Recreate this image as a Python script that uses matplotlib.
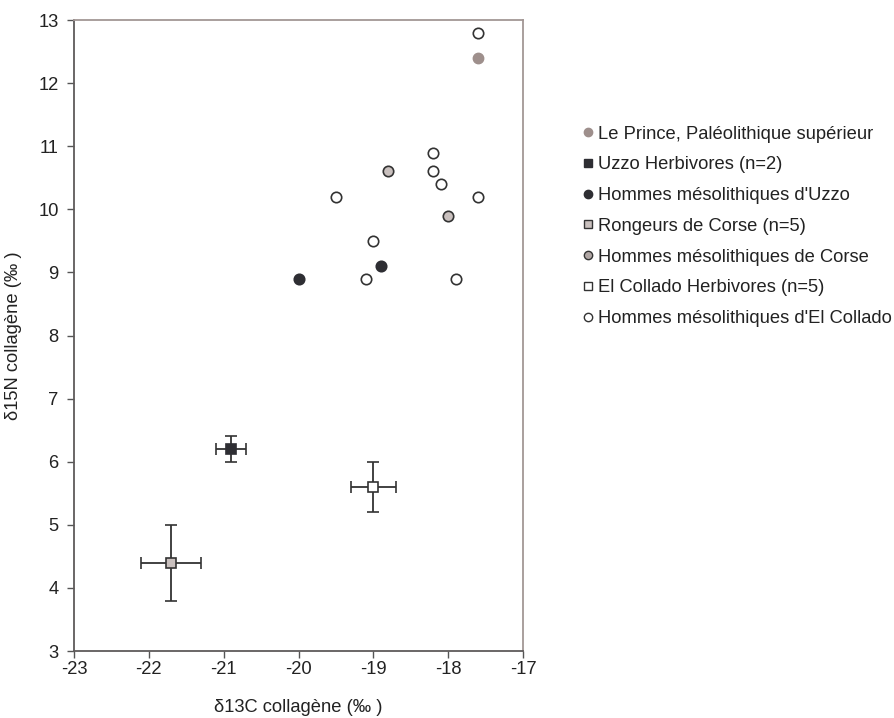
import matplotlib
matplotlib.use("Agg")
import matplotlib.pyplot as plt
from matplotlib.lines import Line2D

plt.rcParams['font.family'] = ['Liberation Sans', 'DejaVu Sans']

# Data
prince_x = [-17.6]
prince_y = [12.4]

uzzo_herb_x = [-20.9]
uzzo_herb_y = [6.2]
uzzo_herb_xerr = [0.2]
uzzo_herb_yerr = [0.2]

uzzo_hum_x = [-20.0, -18.9]
uzzo_hum_y = [8.9, 9.1]

corse_rong_x = [-21.7]
corse_rong_y = [4.4]
corse_rong_xerr = [0.4]
corse_rong_yerr = [0.6]

corse_hum_x = [-18.8, -18.0]
corse_hum_y = [10.6, 9.9]

collado_herb_x = [-19.0]
collado_herb_y = [5.6]
collado_herb_xerr = [0.3]
collado_herb_yerr = [0.4]

collado_hum_x = [-17.6, -18.2, -18.2, -18.1, -19.5, -17.6, -19.0, -19.1, -17.9]
collado_hum_y = [12.8, 10.9, 10.6, 10.4, 10.2, 10.2, 9.5, 8.9, 8.9]

labels = ["Le Prince, Paléolithique supérieur",
          "Uzzo Herbivores (n=2)",
          "Hommes mésolithiques d'Uzzo",
          "Rongeurs de Corse (n=5)",
          "Hommes mésolithiques de Corse",
          "El Collado Herbivores (n=5)",
          "Hommes mésolithiques d'El Collado"]

xticks = [-23, -22, -21, -20, -19, -18, -17]
yticks = [3, 4, 5, 6, 7, 8, 9, 10, 11, 12, 13]

FS = 13.2
dark = '#2e2e33'
edge = '#333333'
fig = plt.figure(figsize=(8.95, 7.18), dpi=100)
ax = fig.add_axes([0.0827, 0.0933, 0.5017, 0.8788])

eb_kw = dict(ecolor=edge, elinewidth=1.3, capsize=4, capthick=1.3, linestyle='none', zorder=2)

ax.errorbar(corse_rong_x, corse_rong_y, xerr=corse_rong_xerr, yerr=corse_rong_yerr,
            marker='s', markersize=6.5, markerfacecolor='#c9c0be', markeredgecolor=edge,
            markeredgewidth=1.2, **eb_kw)
ax.errorbar(uzzo_herb_x, uzzo_herb_y, xerr=uzzo_herb_xerr, yerr=uzzo_herb_yerr,
            marker='s', markersize=6.5, markerfacecolor=dark, markeredgecolor=dark,
            markeredgewidth=1.2, **eb_kw)
ax.errorbar(collado_herb_x, collado_herb_y, xerr=collado_herb_xerr, yerr=collado_herb_yerr,
            marker='s', markersize=6.5, markerfacecolor='white', markeredgecolor=edge,
            markeredgewidth=1.2, **eb_kw)

ax.plot(collado_hum_x, collado_hum_y, 'o', markersize=7.5, markerfacecolor='white',
        markeredgecolor=edge, markeredgewidth=1.2, zorder=3)
ax.plot(corse_hum_x, corse_hum_y, 'o', markersize=7.5, markerfacecolor='#c9c0be',
        markeredgecolor=edge, markeredgewidth=1.2, zorder=3)
ax.plot(uzzo_hum_x, uzzo_hum_y, 'o', markersize=7.5, markerfacecolor=dark,
        markeredgecolor=dark, markeredgewidth=1.2, zorder=3)
ax.plot(prince_x, prince_y, 'o', markersize=7.5, markerfacecolor='#9e8f8c',
        markeredgecolor='#9e8f8c', markeredgewidth=1.0, zorder=3)

ax.set_xlim(-23, -17)
ax.set_ylim(3, 13)
ax.set_xticks(xticks)
ax.set_yticks(yticks)
ax.set_xticklabels([str(t) for t in xticks])
ax.set_yticklabels([str(t) for t in yticks])
ax.tick_params(axis='both', labelsize=FS, colors='#555555', labelcolor='#222222',
               length=5, width=1.0, direction='out')
ax.tick_params(axis='x', pad=2)
ax.tick_params(axis='y', pad=6)

for s in ['top', 'right']:
    ax.spines[s].set_color('#a39795')
    ax.spines[s].set_linewidth(1.3)
for s in ['left', 'bottom']:
    ax.spines[s].set_color('#5e5a5a')
    ax.spines[s].set_linewidth(1.3)

ax.set_xlabel("δ13C collagène (‰ )", fontsize=FS, color='#222222', labelpad=15)
ax.set_ylabel("δ15N collagène (‰ )", fontsize=FS, color='#222222', labelpad=12)

handles = [
    Line2D([], [], linestyle='none', marker='o', markersize=6, markerfacecolor='#9e8f8c', markeredgecolor='#9e8f8c'),
    Line2D([], [], linestyle='none', marker='s', markersize=5.5, markerfacecolor=dark, markeredgecolor=dark),
    Line2D([], [], linestyle='none', marker='o', markersize=6, markerfacecolor=dark, markeredgecolor=dark),
    Line2D([], [], linestyle='none', marker='s', markersize=5.5, markerfacecolor='#c9c0be', markeredgecolor=edge, markeredgewidth=1.0),
    Line2D([], [], linestyle='none', marker='o', markersize=6, markerfacecolor='#b0a6a4', markeredgecolor=edge, markeredgewidth=1.0),
    Line2D([], [], linestyle='none', marker='s', markersize=5.5, markerfacecolor='white', markeredgecolor=edge, markeredgewidth=1.0),
    Line2D([], [], linestyle='none', marker='o', markersize=6, markerfacecolor='white', markeredgecolor=edge, markeredgewidth=1.0),
]
fig.legend(handles, labels, loc='upper left', bbox_to_anchor=(0.652, 0.825),
           frameon=False, fontsize=FS, handlelength=0.5, handletextpad=0.3,
           labelspacing=0.75, borderaxespad=0, borderpad=0, labelcolor='#222222')

fig.savefig("out.png", dpi=100)
